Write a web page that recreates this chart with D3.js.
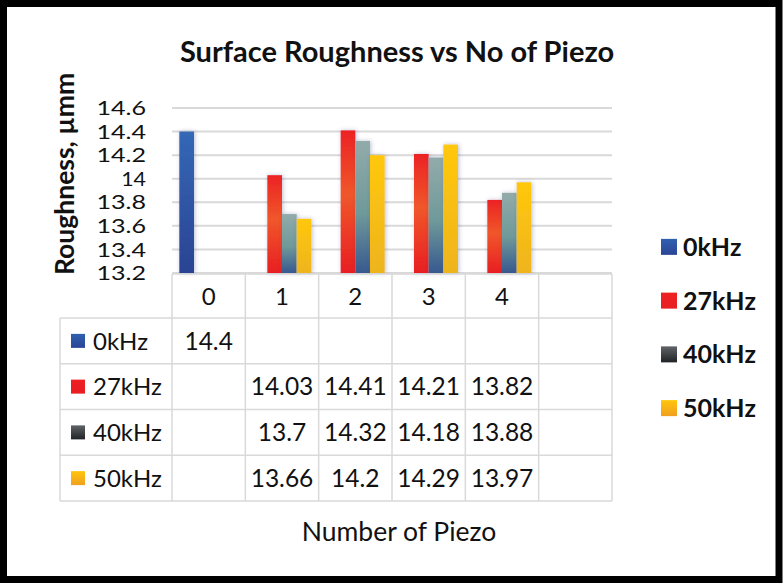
<html>
<head>
<meta charset="utf-8">
<title>Surface Roughness vs No of Piezo</title>
<script src="https://cdn.jsdelivr.net/npm/d3@7"></script>
<style>
  body { margin: 0; background: #fff; }
  text { font-family: Lato, "Open Sans", sans-serif; fill: #111; }
</style>
</head>
<body>
<script>
// data
var categories = ["0", "1", "2", "3", "4", ""];
var series = ["0kHz", "27kHz", "40kHz", "50kHz"];
var v0 = [14.4, null, null, null, null, null];
var v27 = [null, 14.03, 14.41, 14.21, 13.82, null];
var v40 = [null, 13.7, 14.32, 14.18, 13.88, null];
var v50 = [null, 13.66, 14.2, 14.29, 13.97, null];
var yTicks = [13.2, 13.4, 13.6, 13.8, 14, 14.2, 14.4, 14.6];
var values = [v0, v27, v40, v50];

var width = 783, height = 583;
var svg = d3.select("body").append("svg")
  .attr("width", width).attr("height", height);

var defs = svg.append("defs");
// bar gradients
var barStops = [
  [["0%", "#3468b6"], ["100%", "#2b4393"]],
  [["0%", "#ec2224"], ["45%", "#f0572a"], ["100%", "#e81e22"]],
  [["0%", "#92abaa"], ["55%", "#6f9999"], ["100%", "#37598f"]],
  [["0%", "#ffc80c"], ["100%", "#eeb41e"]]
];
var keyStops = [
  [["0%", "#3060b0"], ["100%", "#2c4596"]],
  [["0%", "#ee2024"], ["100%", "#e81e22"]],
  [["0%", "#606468"], ["100%", "#202326"]],
  [["0%", "#ffc40a"], ["100%", "#f0a020"]]
];
function grad(id, stops) {
  var g = defs.append("linearGradient").attr("id", id)
    .attr("x1", 0).attr("y1", 0).attr("x2", 0).attr("y2", 1);
  stops.forEach(function (s) {
    g.append("stop").attr("offset", s[0]).attr("stop-color", s[1]);
  });
}
series.forEach(function (s, i) {
  grad("bar" + i, barStops[i]);
  grad("key" + i, keyStops[i]);
});
var f = defs.append("filter").attr("id", "shadow")
  .attr("x", "-50%").attr("y", "-10%").attr("width", "200%").attr("height", "120%");
f.append("feDropShadow").attr("dx", 1).attr("dy", 0).attr("stdDeviation", 2)
  .attr("flood-color", "#3a4a80").attr("flood-opacity", 0.35);

// outer frame
svg.append("rect").attr("x", 3.5).attr("y", 3.5)
  .attr("width", width - 7.5).attr("height", height - 7)
  .attr("fill", "#fff").attr("stroke", "#000").attr("stroke-width", 7);

var x = d3.scaleBand().domain(categories).range([172, 612]);
var bw = x.bandwidth();
var xs = d3.scaleBand().domain(series).range([bw * 0.1, bw * 0.9]);
var y = d3.scaleLinear().domain([13.2, 14.6]).range([273, 108]);

// gridlines
svg.append("g").selectAll("line").data(yTicks).enter().append("line")
  .attr("x1", 172).attr("x2", 612)
  .attr("y1", function (d) { return y(d); }).attr("y2", function (d) { return y(d); })
  .attr("stroke", "#d9d9d9").attr("stroke-width", 2);

// y tick labels
svg.append("g").selectAll("text").data(yTicks).enter().append("text")
  .attr("x", 146).attr("y", function (d) { return y(d); })
  .attr("dy", "0.36em").attr("text-anchor", "end")
  .style("font-size", "20px")
  .attr("textLength", function (d) { return String(d).length * 12.4; })
  .attr("lengthAdjust", "spacingAndGlyphs")
  .text(function (d) { return d3.format("")(d); });

// bars
series.forEach(function (s, i) {
  svg.append("g").selectAll("rect")
    .data(values[i].map(function (v, j) { return { c: categories[j], v: v }; })
      .filter(function (d) { return d.v != null; }))
    .enter().append("rect")
    .attr("x", function (d) { return x(d.c) + xs(s); })
    .attr("y", function (d) { return y(d.v); })
    .attr("width", xs.bandwidth())
    .attr("height", function (d) { return y(13.2) - y(d.v); })
    .attr("fill", "url(#bar" + i + ")")
    .attr("filter", "url(#shadow)");
});

// data table
var rowTop = 318, rowBottom = 501;
var rows = d3.scaleBand().domain(series).range([rowTop, rowBottom]);
var tbl = svg.append("g").attr("stroke", "#d9d9d9").attr("stroke-width", 1.5);
// horizontal lines
tbl.append("line").attr("x1", 172).attr("x2", 612).attr("y1", 274).attr("y2", 274);
series.forEach(function (s) {
  tbl.append("line").attr("x1", 60).attr("x2", 612)
    .attr("y1", rows(s)).attr("y2", rows(s));
});
tbl.append("line").attr("x1", 60).attr("x2", 612).attr("y1", rowBottom).attr("y2", rowBottom);
// vertical lines
tbl.append("line").attr("x1", 60).attr("x2", 60).attr("y1", rowTop).attr("y2", rowBottom);
categories.forEach(function (c) {
  tbl.append("line").attr("x1", x(c)).attr("x2", x(c)).attr("y1", 274).attr("y2", rowBottom);
});
tbl.append("line").attr("x1", 612).attr("x2", 612).attr("y1", 274).attr("y2", rowBottom);

// header labels
svg.append("g").selectAll("text").data(categories).enter().append("text")
  .attr("x", function (d) { return x(d) + bw / 2; })
  .attr("y", 296).attr("dy", "0.36em").attr("text-anchor", "middle")
  .style("font-size", "24px")
  .text(function (d) { return d; });

// row labels and cells
series.forEach(function (s, i) {
  var cy = rows(s) + rows.bandwidth() / 2;
  svg.append("rect").attr("x", 71).attr("y", cy - 7)
    .attr("width", 14).attr("height", 14).attr("fill", "url(#key" + i + ")");
  svg.append("text").attr("x", 93).attr("y", cy).attr("dy", "0.36em")
    .style("font-size", "24px").text(s);
  svg.append("g").selectAll("text")
    .data(values[i].map(function (v, j) { return { c: categories[j], v: v }; })
      .filter(function (d) { return d.v != null; }))
    .enter().append("text")
    .attr("x", function (d) { return x(d.c) + bw / 2; })
    .attr("y", cy).attr("dy", "0.36em").attr("text-anchor", "middle")
    .style("font-size", "24.5px")
    .text(function (d) { return d.v; });
});

// legend
var leg = d3.scaleBand().domain(series).range([220, 435]);
series.forEach(function (s, i) {
  var cy = leg(s) + leg.bandwidth() / 2;
  svg.append("rect").attr("x", 661).attr("y", cy - 8)
    .attr("width", 16).attr("height", 16).attr("fill", "url(#key" + i + ")");
  svg.append("text").attr("x", 683).attr("y", cy).attr("dy", "0.36em")
    .style("font-size", "25px").style("font-weight", "bold").text(s);
});

// titles
svg.append("text").attr("x", 397).attr("y", 62).attr("text-anchor", "middle")
  .style("font-size", "29px").style("font-weight", "bold")
  .text("Surface Roughness vs No of Piezo");
svg.append("text").attr("transform", "translate(74,174) rotate(-90)")
  .attr("text-anchor", "middle")
  .style("font-size", "26.5px").style("font-weight", "bold")
  .text("Roughness, µmm");
svg.append("text").attr("x", 399).attr("y", 541).attr("text-anchor", "middle")
  .style("font-size", "26.5px")
  .text("Number of Piezo");
</script>
</body>
</html>
